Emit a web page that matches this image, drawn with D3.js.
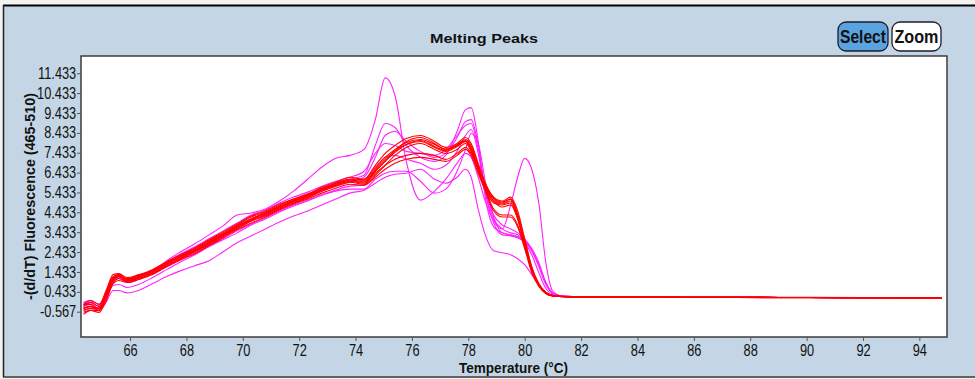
<!DOCTYPE html>
<html>
<head>
<meta charset="utf-8">
<script src="https://cdn.jsdelivr.net/npm/d3@7"></script>
<style>
  html, body { margin: 0; padding: 0; background: #ffffff; }
  svg { display: block; }
  text { font-family: "Liberation Sans", Arial, sans-serif; }
</style>
</head>
<body>
<svg id="chart" width="975" height="379"></svg>
<script>
// ---- data ----
const temps = [64.35,64.6,64.9,65.15,65.4,65.6,65.9,66.3,66.8,67.3,67.8,68.3,68.8,69.3,69.8,70.3,70.8,71.3,71.8,72.3,72.8,73.3,73.8,74.3,74.7,75.05,75.4,75.8,76.3,76.8,77.2,77.6,77.9,78.1,78.35,78.6,78.9,79.2,79.5,79.75,80.0,80.25,80.5,80.75,81.0,81.3,81.7,83,86,89,92,94.8];

const red1 = [-0.2,0.0,-0.2,0.5,1.3,1.35,1.15,1.3,1.55,1.95,2.3,2.65,3.05,3.45,3.85,4.25,4.5,4.85,5.1,5.35,5.7,5.95,6.2,6.1,6.8,7.4,7.8,8.15,8.3,8.0,7.7,7.9,8.2,7.9,6.9,5.9,5.2,5.0,5.2,4.5,3.1,1.7,0.85,0.4,0.25,0.2,0.18,0.17,0.16,0.15,0.14,0.12];
const red2 = [-0.4,-0.3,-0.5,0.2,1.0,1.2,1.0,1.15,1.4,1.8,2.15,2.5,2.85,3.25,3.65,4.05,4.3,4.65,4.95,5.2,5.55,5.8,6.0,5.9,6.5,7.0,7.5,8.0,8.2,7.9,7.6,7.8,8.05,7.7,6.7,5.8,5.1,4.9,5.1,4.3,2.9,1.6,0.8,0.4,0.25,0.21,0.19,0.17,0.16,0.15,0.14,0.13];
const red3 = [-0.6,-0.5,-0.6,0.0,0.9,1.1,0.95,1.1,1.35,1.75,2.1,2.45,2.8,3.2,3.6,4.0,4.25,4.6,4.9,5.15,5.5,5.75,5.95,5.85,6.3,6.8,7.3,7.7,7.9,7.6,7.4,7.6,7.9,7.5,6.5,5.6,4.9,4.8,4.9,4.1,2.8,1.5,0.75,0.35,0.22,0.19,0.17,0.16,0.15,0.14,0.13,0.11];
const red4 = [-0.3,-0.1,-0.3,0.3,1.15,1.25,1.05,1.2,1.5,1.9,2.25,2.55,2.95,3.35,3.75,4.1,4.4,4.7,5.0,5.25,5.55,5.8,6.0,5.95,6.4,6.8,7.1,7.3,7.4,7.3,7.1,7.4,7.7,7.4,6.6,5.6,4.6,4.3,4.3,3.8,2.7,1.5,0.75,0.35,0.22,0.2,0.18,0.17,0.16,0.15,0.14,0.12];
const red5 = [-0.5,-0.4,-0.4,0.2,1.05,1.2,1.0,1.15,1.45,1.85,2.2,2.5,2.9,3.3,3.7,4.1,4.4,4.75,5.05,5.3,5.65,5.9,6.1,6.05,6.6,7.1,7.55,7.85,8.0,7.7,7.5,7.75,8.0,7.6,6.6,5.7,5.0,4.85,5.0,4.2,2.9,1.6,0.8,0.4,0.24,0.2,0.18,0.17,0.16,0.15,0.14,0.12];
const red6 = [-0.2,-0.2,-0.4,0.4,1.2,1.3,1.1,1.25,1.5,1.9,2.3,2.6,3.0,3.4,3.8,4.2,4.45,4.8,5.1,5.35,5.65,5.9,6.1,6.1,6.7,7.2,7.6,7.95,8.1,7.85,7.6,7.85,8.1,7.8,6.8,5.9,5.15,4.95,5.1,4.3,3.0,1.65,0.8,0.4,0.25,0.21,0.19,0.18,0.17,0.16,0.15,0.13];
const red7 = [-0.7,-0.5,-0.5,0.0,0.85,1.0,0.9,1.05,1.3,1.7,2.05,2.35,2.75,3.15,3.55,3.9,4.2,4.55,4.85,5.1,5.4,5.65,5.85,5.8,6.2,6.6,6.9,7.1,7.2,7.1,7.0,7.3,7.6,7.3,6.4,5.5,4.5,4.2,4.2,3.7,2.6,1.4,0.7,0.35,0.22,0.19,0.17,0.16,0.15,0.14,0.13,0.11];
const red8 = [-0.4,-0.3,-0.4,0.3,1.1,1.2,1.05,1.2,1.45,1.85,2.2,2.5,2.9,3.3,3.7,4.1,4.35,4.7,5.0,5.25,5.6,5.85,6.05,6.0,6.5,7.0,7.45,7.85,8.05,7.75,7.55,7.8,8.0,7.6,6.6,5.7,5.0,4.7,4.8,4.1,2.85,1.55,0.78,0.38,0.23,0.2,0.18,0.17,0.16,0.15,0.14,0.12];

const mag1 = [-0.2,-0.1,-0.3,0.2,0.9,1.1,0.95,1.1,1.4,2.0,2.45,2.85,3.3,3.75,4.3,4.4,4.6,5.0,5.5,6.1,6.7,7.15,7.3,7.6,9.1,11.2,10.3,7.0,5.05,5.5,6.1,6.9,7.4,7.2,6.2,5.0,4.0,3.6,4.8,6.2,7.15,6.6,4.9,1.9,0.45,0.22,0.19,0.17,0.16,0.15,0.14,0.12];
const mag2 = [-0.3,-0.2,-0.4,0.3,1.1,1.25,1.05,1.2,1.5,1.9,2.25,2.6,3.0,3.35,3.75,4.1,4.4,4.7,5.0,5.3,5.6,5.85,6.1,6.3,7.8,8.9,8.7,7.8,7.2,7.0,7.3,8.5,9.6,9.7,8.0,5.2,3.7,3.4,3.3,3.2,2.9,2.3,1.4,0.6,0.3,0.21,0.19,0.17,0.16,0.15,0.14,0.12];
const mag3 = [-0.4,-0.3,-0.5,0.1,0.95,1.1,0.9,1.05,1.35,1.75,2.1,2.45,2.85,3.25,3.6,4.0,4.3,4.6,4.9,5.2,5.5,5.75,5.95,6.2,7.2,8.3,8.5,8.0,7.5,7.2,7.4,8.2,9.0,9.1,7.8,5.5,4.1,3.6,3.4,3.3,3.0,2.5,1.7,0.8,0.35,0.22,0.19,0.17,0.16,0.15,0.14,0.12];
const mag4 = [-0.1,0.0,-0.2,0.3,1.0,1.1,0.95,1.1,1.35,1.7,2.05,2.4,2.75,3.1,3.5,3.85,4.15,4.5,4.8,5.05,5.3,5.5,5.6,5.6,6.1,6.4,6.5,6.5,6.0,5.4,5.6,6.5,7.6,8.4,7.9,6.0,4.2,3.4,3.3,3.2,3.0,2.6,1.9,0.9,0.35,0.22,0.19,0.17,0.16,0.15,0.14,0.12];
const mag5 = [-0.5,-0.4,-0.5,-0.1,0.5,0.5,0.38,0.5,0.85,1.2,1.5,1.75,2.0,2.45,2.9,3.25,3.6,3.95,4.25,4.5,4.8,5.1,5.4,5.55,5.9,6.2,6.35,6.4,6.6,6.1,5.9,6.2,6.6,6.2,4.6,3.3,2.5,2.4,2.3,2.1,1.8,1.3,0.8,0.4,0.25,0.2,0.18,0.17,0.16,0.15,0.14,0.12];
const mag6 = [-0.1,0.0,-0.2,0.2,0.75,0.8,0.65,0.8,1.15,1.55,1.95,2.3,2.7,3.05,3.4,3.8,4.1,4.45,4.75,5.0,5.3,5.55,5.75,5.8,6.6,7.2,7.3,7.1,6.9,6.6,6.8,7.5,8.3,8.6,7.4,5.4,3.9,3.3,3.25,3.15,2.95,2.5,1.8,0.9,0.35,0.22,0.19,0.17,0.16,0.15,0.14,0.12];
const mag7 = [-0.3,-0.1,-0.3,0.4,1.2,1.3,1.1,1.25,1.55,1.95,2.35,2.7,3.1,3.5,3.9,4.3,4.55,4.9,5.2,5.45,5.75,6.0,6.2,6.5,7.4,7.9,7.8,7.5,7.4,7.3,7.6,8.3,8.8,8.9,7.6,5.6,4.3,3.8,3.6,3.4,3.1,2.6,1.8,0.85,0.35,0.22,0.19,0.17,0.16,0.15,0.14,0.12];

const magentaSeries = [mag1, mag2, mag3, mag4, mag5, mag6, mag7];
const redSeries = [red1, red2, red3, red4, red5, red6, red7, red8];

const xTicks = [66,68,70,72,74,76,78,80,82,84,86,88,90,92,94];
const yTicks = [-0.567,0.433,1.433,2.433,3.433,4.433,5.433,6.433,7.433,8.433,9.433,10.433,11.433];

const titleText = "Melting Peaks";
const xLabelText = "Temperature (°C)";
const yLabelText = "-(d/dT) Fluorescence (465-510)";

// ---- layout ----
const W = 975, H = 379;
const plot = { left: 81, top: 56, right: 947, bottom: 337 };

const svg = d3.select("#chart");

// panel background
svg.append("rect").attr("x", 0).attr("y", 0).attr("width", W).attr("height", H).attr("fill", "#f2f2f0");
svg.append("rect").attr("x", 4).attr("y", 6).attr("width", W - 4).attr("height", 370).attr("fill", "#c4d6e6");
svg.append("line").attr("x1", 3).attr("x2", W).attr("y1", 5.5).attr("y2", 5.5).attr("stroke", "#000").attr("stroke-width", 2);
svg.append("line").attr("x1", 3.5).attr("x2", 3.5).attr("y1", 5).attr("y2", 377).attr("stroke", "#222").attr("stroke-width", 1.5);
svg.append("line").attr("x1", 3).attr("x2", W).attr("y1", 377).attr("y2", 377).attr("stroke", "#333").attr("stroke-width", 1.5);

// plot area
svg.append("rect")
  .attr("x", plot.left).attr("y", plot.top)
  .attr("width", plot.right - plot.left).attr("height", plot.bottom - plot.top)
  .attr("fill", "#ffffff").attr("stroke", "#3c3c3c").attr("stroke-width", 1.5);

const x = d3.scaleLinear().domain([64.26, 94.98]).range([plot.left, plot.right]);
const y = d3.scaleLinear().domain([-1.84, 12.30]).range([plot.bottom, plot.top]);

// axes
const xAxis = d3.axisBottom(x).tickValues(xTicks).tickSize(4).tickPadding(4).tickFormat(d3.format("d"));
const yAxis = d3.axisLeft(y).tickValues(yTicks).tickSize(4).tickPadding(2).tickFormat(d => d.toFixed(3));

const gx = svg.append("g").attr("transform", `translate(0,${plot.bottom})`).call(xAxis);
const gy = svg.append("g").attr("transform", `translate(${plot.left},0)`).call(yAxis);
[gx, gy].forEach(g => {
  g.attr("font-family", null).attr("font-size", null);
  g.select(".domain").remove();
  g.selectAll(".tick line").attr("stroke", "#555");
  g.selectAll(".tick text").attr("fill", "#111").style("font-size", "16px");
});
// narrow look: compress tick labels horizontally
gy.selectAll(".tick text").attr("transform", "scale(0.8,1)");
gx.selectAll(".tick text").attr("transform", "scale(0.8,1)");

// clip
svg.append("clipPath").attr("id", "clip").append("rect")
  .attr("x", plot.left + 1).attr("y", plot.top + 1)
  .attr("width", plot.right - plot.left - 2).attr("height", plot.bottom - plot.top - 2);

const line = d3.line()
  .defined(d => d[1] !== undefined)
  .x(d => x(d[0])).y(d => y(d[1]))
  .curve(d3.curveMonotoneX);

const gLines = svg.append("g").attr("clip-path", "url(#clip)");
magentaSeries.forEach(s => {
  gLines.append("path").datum(temps.map((t, i) => [t, s[i]]))
    .attr("d", line).attr("fill", "none").attr("stroke", "#ff22ff").attr("stroke-width", 1.1);
});
redSeries.forEach(s => {
  gLines.append("path").datum(temps.map((t, i) => [t, s[i]]))
    .attr("d", line).attr("fill", "none").attr("stroke", "#ff0000").attr("stroke-width", 1.1);
});

// titles (textLength to mimic the narrow original font)
svg.append("text")
  .attr("x", 484).attr("y", 43).attr("text-anchor", "middle")
  .attr("textLength", 108).attr("lengthAdjust", "spacingAndGlyphs")
  .style("font-size", "13px").style("font-weight", "bold")
  .attr("fill", "#111").text(titleText);

svg.append("text")
  .attr("x", 513.5).attr("y", 373).attr("text-anchor", "middle")
  .attr("textLength", 109).attr("lengthAdjust", "spacingAndGlyphs")
  .style("font-size", "15px").style("font-weight", "bold")
  .attr("fill", "#111").text(xLabelText);

svg.append("text")
  .attr("transform", "translate(35,196.5) rotate(-90)").attr("text-anchor", "middle")
  .attr("textLength", 207).attr("lengthAdjust", "spacingAndGlyphs")
  .style("font-size", "14px").style("font-weight", "bold")
  .attr("fill", "#111").text(yLabelText);

// buttons
const buttons = [
  { label: "Select", x: 838, w: 50, tw: 46, fill: "#5ba3df" },
  { label: "Zoom", x: 892, w: 49, tw: 44, fill: "#ffffff" }
];
buttons.forEach(b => {
  svg.append("rect").attr("x", b.x).attr("y", 22).attr("width", b.w).attr("height", 29)
    .attr("rx", 8).attr("ry", 8).attr("fill", b.fill).attr("stroke", "#1c1c2c").attr("stroke-width", 1.3);
  svg.append("text")
    .attr("x", b.x + b.w / 2).attr("y", 43).attr("text-anchor", "middle")
    .attr("textLength", b.tw).attr("lengthAdjust", "spacingAndGlyphs")
    .style("font-size", "18px").style("font-weight", "bold").attr("fill", "#111").text(b.label);
});
</script>
</body>
</html>
